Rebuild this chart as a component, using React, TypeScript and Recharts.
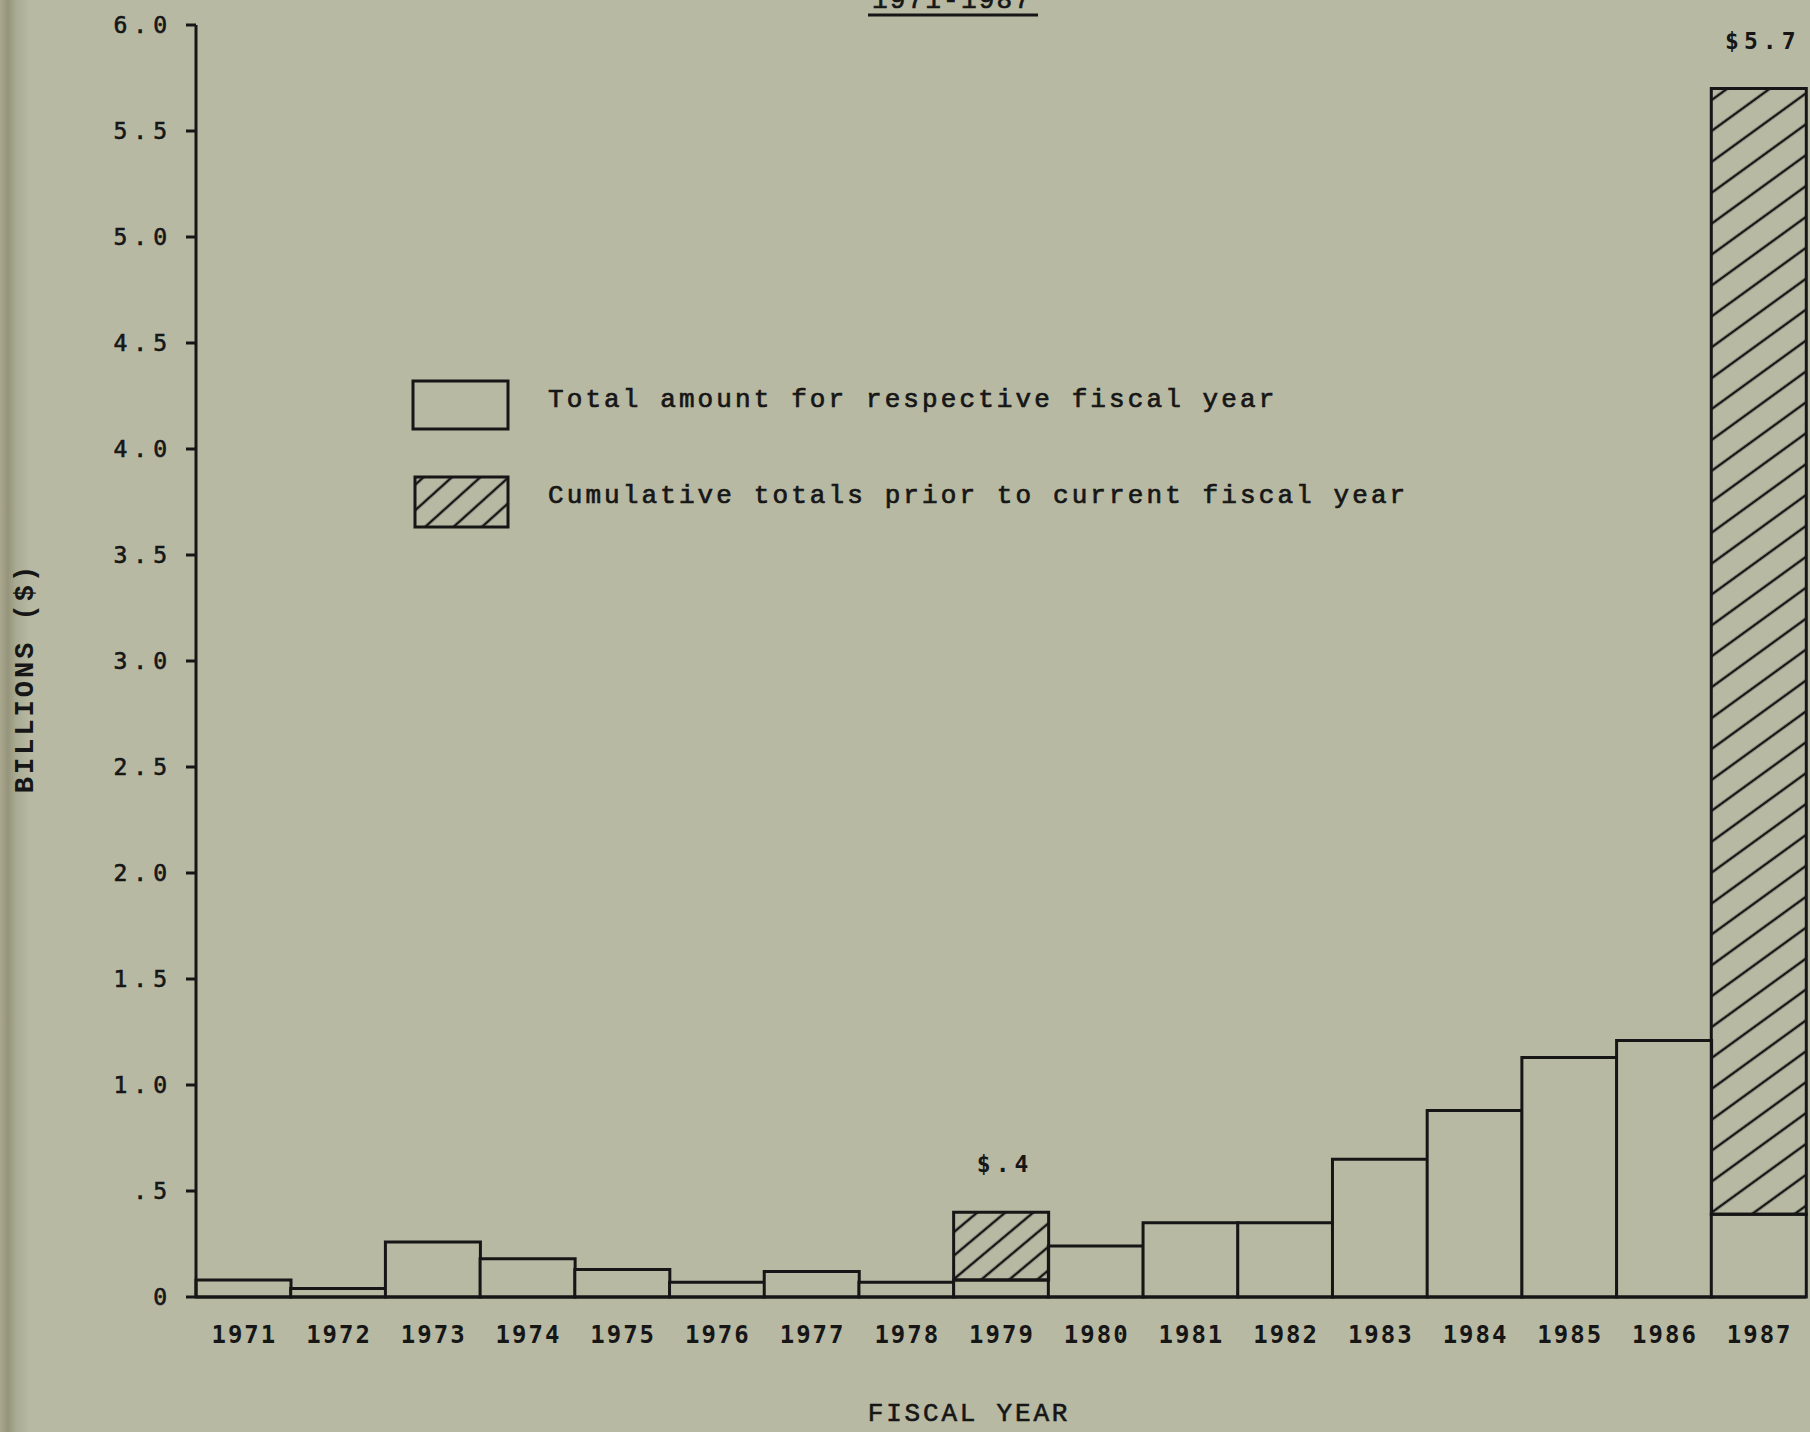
import React from 'react';
import { BarChart, Bar, XAxis, YAxis, Cell, LabelList, Legend, Customized } from 'recharts';

const years = ['1971', '1972', '1973', '1974', '1975', '1976', '1977', '1978', '1979', '1980', '1981', '1982', '1983', '1984', '1985', '1986', '1987'];
const annualTotals = [0.08, 0.04, 0.26, 0.18, 0.13, 0.07, 0.12, 0.07, 0.08, 0.24, 0.35, 0.35, 0.65, 0.88, 1.13, 1.21, 0.39];
const cumulativePrior = [0, 0, 0, 0, 0, 0, 0, 0, 0.32, 0, 0, 0, 0, 0, 0, 0, 5.31];
const totalLabels = ['', '', '', '', '', '', '', '', '$.4', '', '', '', '', '', '', '', '$5.7'];
const yTicks = [0, 0.5, 1, 1.5, 2, 2.5, 3, 3.5, 4, 4.5, 5, 5.5, 6];
const yTickLabels = ['0', '.5', '1.0', '1.5', '2.0', '2.5', '3.0', '3.5', '4.0', '4.5', '5.0', '5.5', '6.0'];
const seriesKeys = ['annual', 'prior'];
const seriesNames = ['Total amount for respective fiscal year', 'Cumulative totals prior to current fiscal year'];
const titleText = '1971-1987';
const xTitle = 'FISCAL YEAR';
const yTitle = 'BILLIONS ($)';

const data = years.map((year, i) => ({
  year,
  annual: annualTotals[i],
  prior: cumulativePrior[i] > 0 ? cumulativePrior[i] : null,
  label: totalLabels[i],
}));

const BG = '#b7b9a3';
const INK = '#161616';
const SANS_MONO = "'DejaVu Sans Mono', monospace";
const SERIF_MONO = "'Liberation Mono', 'Courier New', monospace";

const XTick = (props: any) => {
  const { x, y, payload } = props;
  return (
    <text x={x + 1} y={y + 46} textAnchor="middle" fontFamily={SANS_MONO} fontWeight="bold" fontSize={24} letterSpacing={2} fill={INK}>
      {payload.value}
    </text>
  );
};

const YTick = (props: any) => {
  const { x, y, payload } = props;
  const idx = yTicks.indexOf(payload.value);
  return (
    <text x={x + 6} y={y + 8} textAnchor="end" fontFamily={SANS_MONO} fontSize={23} letterSpacing={6} fill={INK} stroke={INK} strokeWidth={0.6}>
      {idx >= 0 ? yTickLabels[idx] : ''}
    </text>
  );
};

const TotalLabel = (props: any) => {
  const { x, y, width, value } = props;
  if (!value) return null;
  return (
    <text x={x + width / 2 + 4} y={y - 40} textAnchor="middle" fontFamily={SANS_MONO} fontWeight="bold" fontSize={23} letterSpacing={5} fill={INK}>
      {value}
    </text>
  );
};

const LegendContent = (props: any) => {
  const payload = props.payload || [];
  const nameFor = (k: string, i: number) => {
    const found = payload.find((p: any) => p.dataKey === k);
    return found ? found.value : seriesNames[i];
  };
  const n0 = nameFor(seriesKeys[0], 0);
  const n1 = nameFor(seriesKeys[1], 1);
  return (
    <svg width={900} height={160} style={{ overflow: 'visible' }}>
      <rect x={3} y={6} width={95} height={48} fill={BG} stroke={INK} strokeWidth={3} />
      <text x={138} y={32} fontFamily={SERIF_MONO} fontSize={26} letterSpacing={3.1} fill={INK} stroke={INK} strokeWidth={0.7}>{n0}</text>
      <rect x={5} y={102} width={93} height={50} fill="url(#hatchLegend)" stroke={INK} strokeWidth={3} />
      <text x={138} y={128} fontFamily={SERIF_MONO} fontSize={26} letterSpacing={3.1} fill={INK} stroke={INK} strokeWidth={0.7}>{n1}</text>
    </svg>
  );
};

const Titles = () => (
  <g>
    <text x={952} y={8} textAnchor="middle" fontFamily={SERIF_MONO} fontSize={26} letterSpacing={2.2} fill={INK} stroke={INK} strokeWidth={0.7}>{titleText}</text>
    <line x1={868} y1={15} x2={1038} y2={15} stroke={INK} strokeWidth={3} />
    <text x={969} y={1421} textAnchor="middle" fontFamily={SERIF_MONO} fontSize={26} letterSpacing={2.8} fill={INK} stroke={INK} strokeWidth={0.6}>{xTitle}</text>
    <text x={0} y={0} transform="translate(33,678) rotate(-90)" textAnchor="middle" fontFamily={SERIF_MONO} fontWeight="bold" fontSize={27} letterSpacing={3} fill={INK}>{yTitle}</text>
  </g>
);

export default function App() {
  return (
    <div style={{ position: 'absolute', left: 0, top: 0, width: 1810, height: 1432, background: BG, overflow: 'hidden' }}>
      <div style={{ position: 'absolute', left: 0, top: 0, width: 30, height: 1432, background: 'linear-gradient(to right, #a9a88f 0px, #96957c 8px, #a9aa92 16px, #b7b9a3 30px)' }} />
      <svg width={0} height={0} style={{ position: 'absolute' }}>
        <defs>
          <pattern id="hatchSteep" patternUnits="userSpaceOnUse" width={40} height={18} patternTransform="rotate(-40)">
            <line x1={-5} y1={9} x2={45} y2={9} stroke={INK} strokeWidth={2.5} />
          </pattern>
          <pattern id="hatchShallow" patternUnits="userSpaceOnUse" width={40} height={25} patternTransform="rotate(-36)">
            <line x1={-5} y1={12} x2={45} y2={12} stroke={INK} strokeWidth={2.5} />
          </pattern>
          <pattern id="hatchLegend" patternUnits="userSpaceOnUse" width={40} height={19} patternTransform="rotate(-42)">
            <line x1={-5} y1={9} x2={45} y2={9} stroke={INK} strokeWidth={2.5} />
          </pattern>
        </defs>
      </svg>
      <div style={{ position: 'absolute', left: 0, top: 0 }}>
        <BarChart width={1810} height={1432} data={data} margin={{ top: 25, right: 4, left: 0, bottom: 0 }} barCategoryGap={0}>
          <XAxis
            dataKey="year"
            height={135}
            tick={<XTick />}
            tickLine={false}
            tickSize={0}
            tickMargin={0}
            axisLine={{ stroke: INK, strokeWidth: 3 }}
            interval={0}
          />
          <YAxis
            type="number"
            domain={[0, 6]}
            ticks={yTicks}
            width={196}
            tick={<YTick />}
            tickSize={10}
            tickMargin={19}
            tickLine={{ stroke: INK, strokeWidth: 3 }}
            axisLine={{ stroke: INK, strokeWidth: 3 }}
            interval={0}
          />
          <Legend
            layout="vertical"
            align="center"
            verticalAlign="middle"
            content={<LegendContent />}
            wrapperStyle={{ left: 410, top: 375, width: 900, height: 160 }}
          />
          <Bar dataKey="annual" name={seriesNames[0]} stackId="a" fill={BG} stroke={INK} strokeWidth={3} isAnimationActive={false} />
          <Bar dataKey="prior" name={seriesNames[1]} stackId="a" fill="url(#hatchSteep)" stroke={INK} strokeWidth={3} isAnimationActive={false}>
            {data.map((d) => (
              <Cell key={d.year} fill={d.year === '1987' ? 'url(#hatchShallow)' : 'url(#hatchSteep)'} />
            ))}
            <LabelList dataKey="label" content={<TotalLabel />} />
          </Bar>
          <Customized component={Titles} />
        </BarChart>
      </div>
    </div>
  );
}
